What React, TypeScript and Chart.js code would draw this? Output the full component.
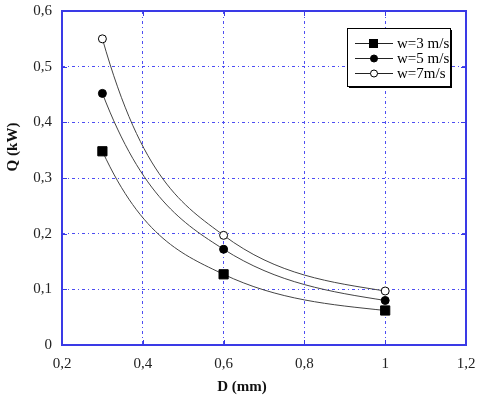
import React, { useEffect, useRef } from "react";
import { Chart, registerables } from "chart.js";

Chart.register(...registerables);

const diameters = [0.3, 0.6, 1.0];
const q3 = [0.348, 0.127, 0.062];
const q5 = [0.452, 0.172, 0.08];
const q7 = [0.55, 0.197, 0.097];
const seriesLabels = ["w=3 m/s", "w=5 m/s", "w=7m/s"];
const xTicks = [0.2, 0.4, 0.6, 0.8, 1.0, 1.2];
const yTicks = [0, 0.1, 0.2, 0.3, 0.4, 0.5, 0.6];
const xTitle = "D (mm)";
const yTitle = "Q (kW)";

const BLUE = "#3a3ae6";
const GRID = "#4c4cf2";
const FONT = "'Liberation Serif', 'Times New Roman', serif";

const fmt = (v: number) => {
  const r = Math.round(v * 10) / 10;
  return String(r).replace(".", ",");
};

// Smooth convex curve: adjust the Bezier control points Chart.js computed
const smoothPlugin = {
  id: "convexSmooth",
  beforeDatasetDraw(chart: any, args: any) {
    const meta = args.meta;
    const line = meta.dataset;
    if (!line) return;
    line.updateControlPoints(chart.chartArea);
    const pts = meta.data;
    const n = pts.length;
    if (n < 3) return;
    const s: number[] = [];
    for (let i = 0; i < n - 1; i++) s.push((pts[i + 1].y - pts[i].y) / (pts[i + 1].x - pts[i].x));
    const m: number[] = new Array(n).fill(0);
    for (let i = 1; i < n - 1; i++) {
      const p = s[i - 1] * s[i];
      m[i] = p > 0 ? Math.sign(s[i]) * Math.sqrt(p) : 0;
    }
    m[0] = m[1] !== 0 ? (s[0] * s[0]) / m[1] : s[0];
    m[n - 1] = m[n - 2] !== 0 ? (s[n - 2] * s[n - 2]) / m[n - 2] : s[n - 2];
    for (let i = 0; i < n; i++) {
      const p = pts[i];
      if (i > 0) {
        const dx = (p.x - pts[i - 1].x) / 3;
        p.cp1x = p.x - dx;
        p.cp1y = p.y - m[i] * dx;
      }
      if (i < n - 1) {
        const dx = (pts[i + 1].x - p.x) / 3;
        p.cp2x = p.x + dx;
        p.cp2y = p.y + m[i] * dx;
      }
    }
  },
};

const framePlugin = {
  id: "frame",
  afterDatasetsDraw(chart: any) {
    const { ctx, chartArea: a, scales } = chart;
    ctx.save();
    ctx.strokeStyle = BLUE;
    ctx.lineWidth = 1;
    const t = 5;
    xTicks.forEach((v) => {
      const px = Math.round(scales.x.getPixelForValue(v)) + 0.5;
      ctx.beginPath();
      ctx.moveTo(px, a.bottom);
      ctx.lineTo(px, a.bottom - t);
      ctx.moveTo(px, a.top);
      ctx.lineTo(px, a.top + t);
      ctx.stroke();
    });
    yTicks.forEach((v) => {
      const py = Math.round(scales.y.getPixelForValue(v)) + 0.5;
      ctx.beginPath();
      ctx.moveTo(a.left, py);
      ctx.lineTo(a.left + t, py);
      ctx.moveTo(a.right, py);
      ctx.lineTo(a.right - t, py);
      ctx.stroke();
    });
    ctx.lineWidth = 2;
    ctx.strokeRect(a.left, a.top, a.right - a.left, a.bottom - a.top);

    // axis titles
    ctx.fillStyle = "#111";
    ctx.font = `bold 15px ${FONT}`;
    ctx.textAlign = "center";
    ctx.textBaseline = "middle";
    ctx.fillText(xTitle, 242, 387);
    ctx.translate(13, 147);
    ctx.rotate(-Math.PI / 2);
    ctx.fillText(yTitle, 0, 0);
    ctx.restore();
  },
};

const legendPlugin = {
  id: "boxLegend",
  afterDraw(chart: any) {
    const ctx = chart.ctx;
    const x0 = 347, y0 = 28, w = 103, h = 58;
    ctx.save();
    ctx.fillStyle = "#fff";
    ctx.fillRect(x0, y0, w, h);
    ctx.fillStyle = "#000";
    ctx.fillRect(x0 + 2, y0 + h, w, 2);
    ctx.fillRect(x0 + w, y0 + 2, 2, h);
    ctx.strokeStyle = "#000";
    ctx.lineWidth = 1;
    ctx.strokeRect(x0 + 0.5, y0 + 0.5, w, h);
    const rows = [43, 58, 73];
    chart.data.datasets.forEach((ds: any, i: number) => {
      const y = rows[i];
      ctx.strokeStyle = "#222";
      ctx.lineWidth = 1;
      ctx.beginPath();
      ctx.moveTo(355, y + 0.5);
      ctx.lineTo(393, y + 0.5);
      ctx.stroke();
      ctx.fillStyle = ds.pointBackgroundColor;
      ctx.strokeStyle = "#000";
      if (ds.pointStyle === "rect") {
        ctx.fillRect(369, y - 4, 9, 9);
        ctx.strokeRect(369.5, y - 3.5, 8, 8);
      } else {
        ctx.beginPath();
        ctx.arc(374, y + 0.5, 3.5, 0, Math.PI * 2);
        ctx.fill();
        ctx.stroke();
      }
      ctx.fillStyle = "#000";
      ctx.font = `15px ${FONT}`;
      ctx.textBaseline = "middle";
      ctx.textAlign = "left";
      ctx.fillText(seriesLabels[i], 397, y + 1);
    });
    ctx.restore();
  },
};

export default function App() {
  const ref = useRef<HTMLCanvasElement | null>(null);
  useEffect(() => {
    document.body.style.margin = "0";
    const mk = (vals: number[]) => diameters.map((x, i) => ({ x, y: vals[i] }));
    const common = {
      borderColor: "#444",
      borderWidth: 1,
      tension: 0.4,
      capBezierPoints: false,
      pointBorderColor: "#000",
      pointBorderWidth: 1,
    };
    const chart = new Chart(ref.current!, {
      type: "line",
      data: {
        datasets: [
          { ...common, label: seriesLabels[0], data: mk(q3), pointStyle: "rect", pointRadius: 6.5, pointBackgroundColor: "#000" },
          { ...common, label: seriesLabels[1], data: mk(q5), pointStyle: "circle", pointRadius: 4, pointBackgroundColor: "#000" },
          { ...common, label: seriesLabels[2], data: mk(q7), pointStyle: "circle", pointRadius: 4, pointBackgroundColor: "#fff" },
        ],
      },
      plugins: [smoothPlugin, framePlugin, legendPlugin],
      options: {
        animation: false,
        responsive: false,
        layout: { padding: { top: 11, right: 14, left: 0, bottom: 0 } },
        plugins: { legend: { display: false }, tooltip: { enabled: false } },
        scales: {
          x: {
            type: "linear",
            min: 0.2,
            max: 1.2,
            afterBuildTicks: (s: any) => { s.ticks = xTicks.map((value) => ({ value })); },
            ticks: { color: "#222", font: { family: FONT, size: 15 }, callback: (v: any) => fmt(Number(v)), padding: 10, maxRotation: 0 },
            grid: { color: GRID, lineWidth: 1, drawTicks: false },
            border: { display: false, dash: [3, 3, 1, 3] },
            title: { display: false },
            afterFit: (s: any) => { s.height = 52; s.paddingLeft = 0; s.paddingRight = 0; },
          },
          y: {
            type: "linear",
            min: 0,
            max: 0.6,
            afterBuildTicks: (s: any) => { s.ticks = yTicks.map((value) => ({ value })); },
            ticks: { color: "#222", font: { family: FONT, size: 15 }, callback: (v: any) => fmt(Number(v)), padding: 10 },
            grid: { color: GRID, lineWidth: 1, drawTicks: false },
            border: { display: false, dash: [3, 3, 1, 3] },
            title: { display: false },
            afterFit: (s: any) => { s.width = 62; s.paddingTop = 0; s.paddingBottom = 0; },
          },
        },
      },
    } as any);
    return () => chart.destroy();
  }, []);
  return <canvas ref={ref} width={480} height={397} style={{ display: "block" }} />;
}
